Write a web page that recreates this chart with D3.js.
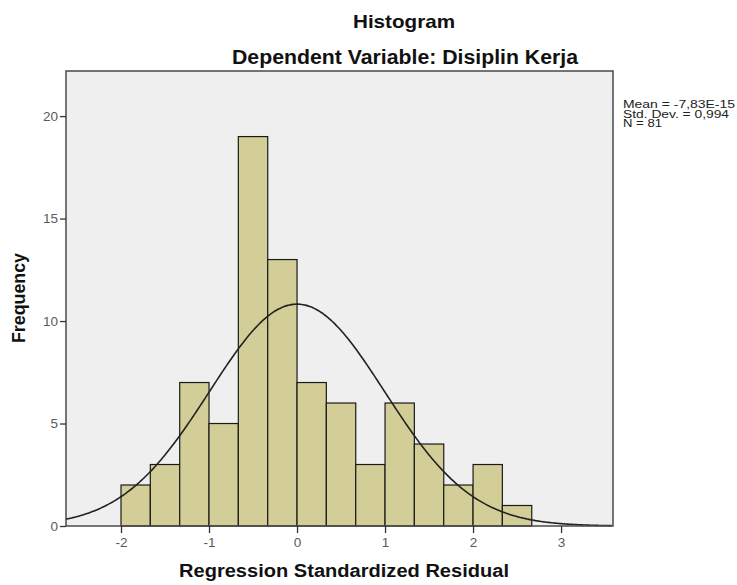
<!DOCTYPE html>
<html>
<head>
<meta charset="utf-8">
<script src="https://cdn.jsdelivr.net/npm/d3@7"></script>
<style>
  body { margin: 0; background: #fff; }
  text { font-family: Arial, "Liberation Sans", sans-serif; }
</style>
</head>
<body>
<script>
// histogram bins (left edges) and counts
const binEdges = [-2, -1.667, -1.333, -1, -0.667, -0.333, 0, 0.333, 0.667, 1, 1.333, 1.667, 2, 2.333, 2.667];
const counts = [2, 3, 7, 5, 19, 13, 7, 6, 3, 6, 4, 2, 3, 1];
const xTicks = [-2, -1, 0, 1, 2, 3];
const yTicks = [0, 5, 10, 15, 20];
const stats = { mean: -7.83e-15, sd: 0.994, n: 81 };
const statLines = ['Mean = -7,83E-15', 'Std. Dev. = 0,994', 'N = 81'];
const statWidths = [112, 106, 39];

const width = 737, height = 585;
const frame = { left: 66, right: 613, top: 71, bottom: 526 };

const svg = d3.select('body').append('svg')
  .attr('width', width)
  .attr('height', height);

const x = d3.scaleLinear().domain([-2.625, 3.59]).range([frame.left, frame.right]);
const y = d3.scaleLinear().domain([0, 22.2]).range([frame.bottom, frame.top]);

// plot background
svg.append('rect')
  .attr('x', frame.left).attr('y', frame.top)
  .attr('width', frame.right - frame.left)
  .attr('height', frame.bottom - frame.top)
  .attr('fill', '#efefef');

// bars
const bins = counts.map((c, i) => ({ x0: binEdges[i], x1: binEdges[i + 1], c }));
svg.append('g').selectAll('rect')
  .data(bins)
  .join('rect')
  .attr('x', d => x(d.x0))
  .attr('y', d => y(d.c))
  .attr('width', d => x(d.x1) - x(d.x0))
  .attr('height', d => y(0) - y(d.c))
  .attr('fill', '#d3ce97')
  .attr('stroke', '#1a1a1a')
  .attr('stroke-width', 1.2);

// normal curve scaled to the counts
const bw = binEdges[1] - binEdges[0];
const pdf = v => Math.exp(-0.5 * Math.pow((v - stats.mean) / stats.sd, 2)) / (stats.sd * Math.sqrt(2 * Math.PI));
const curvePts = d3.range(x.domain()[0], x.domain()[1] + 0.001, 0.02).map(v => [v, stats.n * bw * pdf(v)]);
svg.append('path')
  .datum(curvePts)
  .attr('fill', 'none')
  .attr('stroke', '#222')
  .attr('stroke-width', 1.6)
  .attr('d', d3.line().x(d => x(d[0])).y(d => y(d[1])).curve(d3.curveBasis));

// frame
svg.append('rect')
  .attr('x', frame.left).attr('y', frame.top)
  .attr('width', frame.right - frame.left)
  .attr('height', frame.bottom - frame.top)
  .attr('fill', 'none')
  .attr('stroke', '#4a4a4a')
  .attr('stroke-width', 1.5);

// axes
const xAxis = svg.append('g')
  .attr('transform', `translate(0,${frame.bottom})`)
  .call(d3.axisBottom(x).tickValues(xTicks).tickSize(7).tickFormat(d => String(d)));
const yAxis = svg.append('g')
  .attr('transform', `translate(${frame.left},0)`)
  .call(d3.axisLeft(y).tickValues(yTicks).tickSize(6).tickFormat(d => String(d)));
[xAxis, yAxis].forEach(a => {
  a.select('.domain').remove();
  a.selectAll('.tick line').attr('stroke', '#333').attr('stroke-width', 1.3);
  a.selectAll('.tick text')
    .attr('fill', '#5a5a5a')
    .style('font-size', '13.5px')
    .style('font-family', 'Arial, "Liberation Sans", sans-serif');
});
xAxis.selectAll('.tick text').attr('dy', '0.9em').attr('y', 9);
yAxis.selectAll('.tick text').attr('x', -8);

// titles
function boldText(px, py, size, len, str, rot) {
  const t = svg.append('text')
    .attr('text-anchor', 'middle')
    .style('font-size', size + 'px').style('font-weight', 'bold')
    .attr('fill', '#111')
    .attr('textLength', len)
    .attr('lengthAdjust', 'spacingAndGlyphs')
    .text(str);
  t.attr('transform', `translate(${px},${py})` + (rot ? ` rotate(${rot})` : ''));
  return t;
}
boldText(404, 28, 19, 102, 'Histogram');
boldText(405, 64, 19.5, 346, 'Dependent Variable: Disiplin Kerja');
boldText(344, 577, 18, 330, 'Regression Standardized Residual');
boldText(25, 298, 17.5, 90, 'Frequency', -90);

// statistics box
svg.append('g').selectAll('text')
  .data(statLines)
  .join('text')
  .attr('x', 623)
  .attr('y', (d, i) => 108 + i * 9.5)
  .attr('textLength', (d, i) => statWidths[i])
  .attr('lengthAdjust', 'spacingAndGlyphs')
  .style('font-size', '10px')
  .attr('fill', '#222')
  .text(d => d);
</script>
</body>
</html>
